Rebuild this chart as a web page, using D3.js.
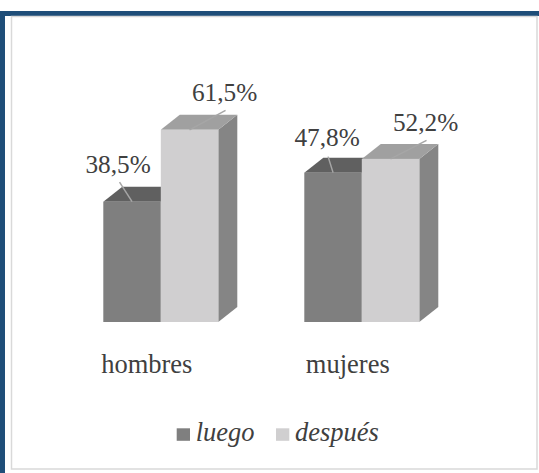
<!DOCTYPE html>
<html>
<head>
<meta charset="utf-8">
<script src="https://cdn.jsdelivr.net/npm/d3@7"></script>
<style>
  html, body { margin: 0; padding: 0; background: #ffffff; }
  svg { display: block; }
  svg text { font-family: "Liberation Serif", "Times New Roman", Times, serif; }
</style>
</head>
<body>
<div id="chart"></div>
<script>
// Share of respondents, by sex and moment
const categories = ["hombres", "mujeres"];
const seriesNames = ["luego", "después"];
const luegoValues = [38.5, 47.8];
const despuesValues = [61.5, 52.2];
const valueLabels = [["38,5%", "47,8%"], ["61,5%", "52,2%"]];

const W = 539, H = 473;
const seriesValues = [luegoValues, despuesValues];
const serifFont = '"Liberation Serif", "Times New Roman", Times, serif';

// front / top / side shades for each series
const faceColors = [
  { front: "#7f7f7f", top: "#606060", side: "#6e6e6e" },
  { front: "#d0cfd0", top: "#a0a0a0", side: "#858585" }
];
const depth = { dx: 19, dy: 15 };

const svg = d3.select("#chart").append("svg")
  .attr("width", W).attr("height", H);

svg.append("rect").attr("width", W).attr("height", H).attr("fill", "#ffffff");

// outer frame: dark blue band on top and left, light gray inner box
svg.append("rect").attr("x", 0).attr("y", 11).attr("width", W).attr("height", 5).attr("fill", "#1f4e79");
svg.append("rect").attr("x", 0).attr("y", 11).attr("width", 5).attr("height", H - 11).attr("fill", "#1f4e79");
svg.append("rect")
  .attr("x", 11.5).attr("y", 16.5).attr("width", 525.5).attr("height", 452.5)
  .attr("fill", "none").attr("stroke", "#d9d9d9").attr("stroke-width", 1.5);

// scales
const x0 = d3.scaleBand().domain(categories)
  .range([103.3, 103.3 + 201 + 115])
  .paddingInner(86 / 201).paddingOuter(0);
const x1 = d3.scaleBand().domain(seriesNames).range([0, x0.bandwidth()]);
const y = d3.scaleLinear().domain([0, 70]).range([322, 322 - 70 * 3.125]);

const rows = [];
seriesNames.forEach((s, si) => {
  categories.forEach((c, ci) => {
    rows.push({ series: s, si, cat: c, ci, value: seriesValues[si][ci], label: valueLabels[si][ci] });
  });
});

const bars = svg.append("g");
rows.forEach(d => {
  const xl = x0(d.cat) + x1(d.series);
  const xr = xl + x1.bandwidth();
  const yt = y(d.value), yb = y(0);
  const col = faceColors[d.si];
  const g = bars.append("g");
  // side face
  g.append("path")
    .attr("d", `M${xr},${yt}L${xr + depth.dx},${yt - depth.dy}L${xr + depth.dx},${yb - depth.dy}L${xr},${yb}Z`)
    .attr("fill", col.side);
  // top face
  g.append("path")
    .attr("d", `M${xl},${yt}L${xr},${yt}L${xr + depth.dx},${yt - depth.dy}L${xl + depth.dx},${yt - depth.dy}Z`)
    .attr("fill", col.top);
  // front face
  g.append("rect")
    .attr("x", xl).attr("y", yt).attr("width", x1.bandwidth()).attr("height", yb - yt)
    .attr("fill", col.front);
});

// value labels with leader lines to the top edge of each bar
const labelOffsets = [
  [{ dx: -14, ty: -29, lx: -12.5, ly: -19.5 }, { dx: -6, ty: -27, lx: -5, ly: -16 }],
  [{ dx: 35, ty: -28.5, lx: 36, ly: -19.5 }, { dx: 35, ty: -27.7, lx: 36, ly: -18.5 }]
];
const labels = svg.append("g");
rows.forEach(d => {
  const cx = x0(d.cat) + x1(d.series) + x1.bandwidth() / 2;
  const yt = y(d.value);
  const o = labelOffsets[d.si][d.ci];
  labels.append("line")
    .attr("x1", cx).attr("y1", yt)
    .attr("x2", cx + o.lx).attr("y2", yt + o.ly)
    .attr("stroke", "#a6a6a6").attr("stroke-width", 1.5);
  labels.append("text")
    .attr("x", cx + o.dx).attr("y", yt + o.ty)
    .attr("text-anchor", "middle")
    .style("font-family", serifFont)
    .style("font-size", "25.3px")
    .attr("fill", "#404040")
    .text(d.label);
});

// category axis labels
const xAxis = d3.axisBottom(x0).tickSize(0).tickPadding(0);
const axisG = svg.append("g")
  .attr("transform", `translate(${-14},${354})`)
  .call(xAxis);
axisG.attr("font-family", null).attr("font-size", null);
axisG.select(".domain").remove();
axisG.selectAll("text")
  .style("font-family", serifFont)
  .style("font-size", "26.5px")
  .attr("fill", "#404040")
  .attr("dy", 0).attr("y", 19.3);

// legend
const legendX = [176.7, 276];
const legend = svg.append("g");
seriesNames.forEach((s, i) => {
  const g = legend.append("g").attr("transform", `translate(${legendX[i]},428.3)`);
  g.append("rect").attr("width", 13.3).attr("height", 12.5).attr("fill", faceColors[i].front);
  g.append("text")
    .attr("x", 19).attr("y", 13)
    .style("font-family", serifFont)
    .style("font-style", "italic")
    .style("font-size", "26.5px")
    .attr("fill", "#404040")
    .text(s);
});
</script>
</body>
</html>
